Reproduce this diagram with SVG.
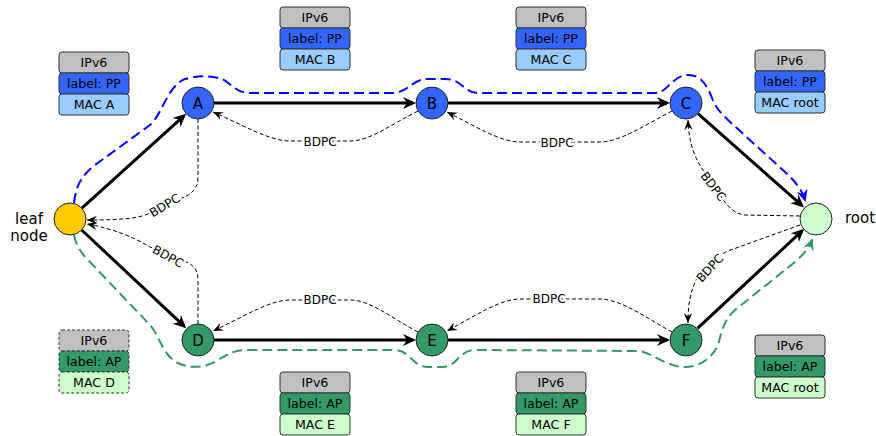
<svg xmlns="http://www.w3.org/2000/svg" width="876" height="436" viewBox="0 0 876 436">
<style>
text{font-family:"DejaVu Sans","Liberation Sans",sans-serif;fill:#000}
.lbl{font-size:15px}
.nl{font-size:15px;text-anchor:middle}
.st{font-size:12.6px;text-anchor:middle}
.bd{font-size:12px;text-anchor:middle;stroke:#fff;stroke-width:4px;paint-order:stroke;stroke-linejoin:round}
.box{stroke:#333;stroke-width:1}
.dsh{stroke-dasharray:3,2}
.ip{fill:#c0c0c0}.pp{fill:#3366ff}.mb{fill:#99ccff}.ap{fill:#339966}.mg{fill:#ccffcc}
.node{stroke:#222;stroke-width:1}
.thick{fill:none;stroke:#000;stroke-width:3;marker-end:url(#ah)}
.bdpc{fill:none;stroke:#000;stroke-width:1;stroke-dasharray:4,2.5;marker-end:url(#ahs)}
.blue{fill:none;stroke:#0000ff;stroke-width:2;stroke-dasharray:10,5;marker-end:url(#ahb)}
.green{fill:none;stroke:#339966;stroke-width:2;stroke-dasharray:10,5;marker-end:url(#ahg)}
</style>
<defs>
<marker id="ah" markerUnits="userSpaceOnUse" viewBox="-12 -7 16 14" markerWidth="16" markerHeight="14" refX="0" refY="0" orient="auto"><path d="M3,0 L-10,-6 L-6,0 L-10,6 Z" fill="#000"/></marker>
<marker id="ahs" markerUnits="userSpaceOnUse" viewBox="-11 -5 12 10" markerWidth="12" markerHeight="10" refX="0" refY="0" orient="auto"><path d="M0,0 L-10,-4.2 L-6.5,0 L-10,4.2 Z" fill="#000"/></marker>
<marker id="ahb" markerUnits="userSpaceOnUse" viewBox="-12 -6 14 12" markerWidth="14" markerHeight="12" refX="0" refY="0" orient="auto"><path d="M2,0 L-10,-5.5 L-6.5,0 L-10,5.5 Z" fill="#0000ff"/></marker>
<marker id="ahg" markerUnits="userSpaceOnUse" viewBox="-12 -6 14 12" markerWidth="14" markerHeight="12" refX="0" refY="0" orient="auto"><path d="M2,0 L-10,-5.5 L-6.5,0 L-10,5.5 Z" fill="#339966"/></marker>
</defs>
<rect width="876" height="436" fill="#fff"/>

<g id="paths">
<path class="blue" d="M74,203 C76,185 82,175 95,165 L150,125 C162,115 168,85 185,79 C195,76 210,75 222,79 C232,84 236,93 250,93 L392,93 C408,93 412,79 428,79 L445,79 C462,79 464,93 478,93 L655,93 C668,93 672,75 688,75 C700,75 706,83 712,98 C716,108 720,112 728,120 L785,172 C795,181 802,190 805,200"/>
<path class="green" d="M74,235 C76,245 80,252 90,262 L150,325 C160,336 162,355 178,363 C190,369 205,368 218,360 C228,354 234,350 248,350 L395,350 C410,350 412,367 428,367 L442,367 C458,367 458,350 475,350 L640,351 C655,355 668,367 685,367 C700,367 712,358 718,345 C722,330 724,320 735,310 L795,262 C803,255 809,248 812,240"/>
</g>

<g id="connectors">
<path class="thick" d="M81.9,208.2 L183.9,115.8"/>
<path class="thick" d="M214,103 L413,103"/>
<path class="thick" d="M448,103 L667,103"/>
<path class="thick" d="M698,113.6 L801.8,205.4"/>
<path class="thick" d="M81.7,230 L184.1,326.1"/>
<path class="thick" d="M214,340 L413,340"/>
<path class="thick" d="M448,340 L667,340"/>
<path class="thick" d="M697.7,328.1 L802.1,230.9"/>

<path class="bdpc" d="M418,111 C390,125 370,141 350,141 L290,141 C270,141 245,126 213,112"/>
<path class="bdpc" d="M672,111 C645,125 620,142 600,142 L520,142 C500,142 475,126 447,112"/>
<path class="bdpc" d="M418,332 C390,317 370,300 350,300 L290,300 C270,300 245,316 213,331"/>
<path class="bdpc" d="M672,332 C645,317 620,299 600,299 L520,299 C500,299 475,316 447,331"/>
<path class="bdpc" d="M198,119 L198,178 C198,190 190,195 180,199 L150,213 C140,218 125,220 87,220"/>
<path class="bdpc" d="M198,324 L198,280 C198,268 192,264 182,260 L150,247 C135,238 115,229 87,224"/>
<path class="bdpc" d="M800,216 L745,215 C735,214 728,207 722,198 L703,170 C695,158 689,145 688,120"/>
<path class="bdpc" d="M800,225 L728,251 C715,257 703,266 697,278 C690,292 688,305 688,323"/>

<text class="bd" x="320" y="145.5">BDPC</text>
<text class="bd" x="557" y="146.5">BDPC</text>
<text class="bd" x="320" y="303.5">BDPC</text>
<text class="bd" x="549" y="302.5">BDPC</text>
<text class="bd" transform="translate(167,209) rotate(-31)">BDPC</text>
<text class="bd" transform="translate(166,260) rotate(29)">BDPC</text>
<text class="bd" transform="translate(710,189) rotate(53)">BDPC</text>
<text class="bd" transform="translate(713,271) rotate(-47)">BDPC</text>
</g>

<g id="leaf"><circle class="node" cx="70" cy="219" r="16" fill="#ffcc00"/><text class="lbl" x="29" y="224" text-anchor="middle">leaf</text><text class="lbl" x="29" y="241" text-anchor="middle">node</text></g>
<g id="root"><circle class="node" cx="816" cy="219" r="16" fill="#ccffcc"/><text class="lbl" x="860" y="223" text-anchor="middle">root</text></g>
<g id="A"><circle class="node" cx="198" cy="103" r="16" fill="#3366ff"/><text class="nl" x="198" y="108.5">A</text></g>
<g id="B"><circle class="node" cx="432" cy="103" r="16" fill="#3366ff"/><text class="nl" x="432" y="108.5">B</text></g>
<g id="C"><circle class="node" cx="686" cy="103" r="16" fill="#3366ff"/><text class="nl" x="686" y="108.5">C</text></g>
<g id="D"><circle class="node" cx="198" cy="340" r="16" fill="#339966"/><text class="nl" x="198" y="345.5">D</text></g>
<g id="E"><circle class="node" cx="432" cy="340" r="16" fill="#339966"/><text class="nl" x="432" y="345.5">E</text></g>
<g id="F"><circle class="node" cx="686" cy="340" r="16" fill="#339966"/><text class="nl" x="686" y="345.5">F</text></g>

<g id="stackA">
<rect class="box ip" x="59" y="52" width="70" height="21" rx="3"/><text class="st" x="94" y="67">IPv6</text>
<rect class="box pp" x="59" y="73" width="70" height="21" rx="3"/><text class="st" x="94" y="88">label: PP</text>
<rect class="box mb" x="59" y="94" width="70" height="21" rx="3"/><text class="st" x="94" y="109">MAC A</text>
</g>
<g id="stackB">
<rect class="box ip" x="280" y="7" width="70" height="21" rx="3"/><text class="st" x="315" y="22">IPv6</text>
<rect class="box pp" x="280" y="28" width="70" height="21" rx="3"/><text class="st" x="315" y="43">label: PP</text>
<rect class="box mb" x="280" y="49" width="70" height="21" rx="3"/><text class="st" x="315" y="64">MAC B</text>
</g>
<g id="stackC">
<rect class="box ip" x="516" y="7" width="70" height="21" rx="3"/><text class="st" x="551" y="22">IPv6</text>
<rect class="box pp" x="516" y="28" width="70" height="21" rx="3"/><text class="st" x="551" y="43">label: PP</text>
<rect class="box mb" x="516" y="49" width="70" height="21" rx="3"/><text class="st" x="551" y="64">MAC C</text>
</g>
<g id="stackRootTop">
<rect class="box ip" x="755" y="50" width="70" height="21" rx="3"/><text class="st" x="790" y="65">IPv6</text>
<rect class="box pp" x="755" y="71" width="70" height="21" rx="3"/><text class="st" x="790" y="86">label: PP</text>
<rect class="box mb" x="755" y="92" width="70" height="21" rx="3"/><text class="st" x="790" y="107">MAC root</text>
</g>
<g id="stackD">
<rect class="box ip dsh" x="59" y="330" width="70" height="21" rx="3"/><text class="st" x="94" y="345">IPv6</text>
<rect class="box ap dsh" x="59" y="351" width="70" height="21" rx="3"/><text class="st" x="94" y="366">label: AP</text>
<rect class="box mg dsh" x="59" y="372" width="70" height="21" rx="3"/><text class="st" x="94" y="387">MAC D</text>
</g>
<g id="stackE">
<rect class="box ip" x="280" y="372" width="70" height="21" rx="3"/><text class="st" x="315" y="387">IPv6</text>
<rect class="box ap" x="280" y="393" width="70" height="21" rx="3"/><text class="st" x="315" y="408">label: AP</text>
<rect class="box mg" x="280" y="414" width="70" height="21" rx="3"/><text class="st" x="315" y="429">MAC E</text>
</g>
<g id="stackF">
<rect class="box ip" x="516" y="372" width="70" height="21" rx="3"/><text class="st" x="551" y="387">IPv6</text>
<rect class="box ap" x="516" y="393" width="70" height="21" rx="3"/><text class="st" x="551" y="408">label: AP</text>
<rect class="box mg" x="516" y="414" width="70" height="21" rx="3"/><text class="st" x="551" y="429">MAC F</text>
</g>
<g id="stackRootBottom">
<rect class="box ip" x="755" y="335" width="70" height="21" rx="3"/><text class="st" x="790" y="350">IPv6</text>
<rect class="box ap" x="755" y="356" width="70" height="21" rx="3"/><text class="st" x="790" y="371">label: AP</text>
<rect class="box mg" x="755" y="377" width="70" height="21" rx="3"/><text class="st" x="790" y="392">MAC root</text>
</g>
</svg>
